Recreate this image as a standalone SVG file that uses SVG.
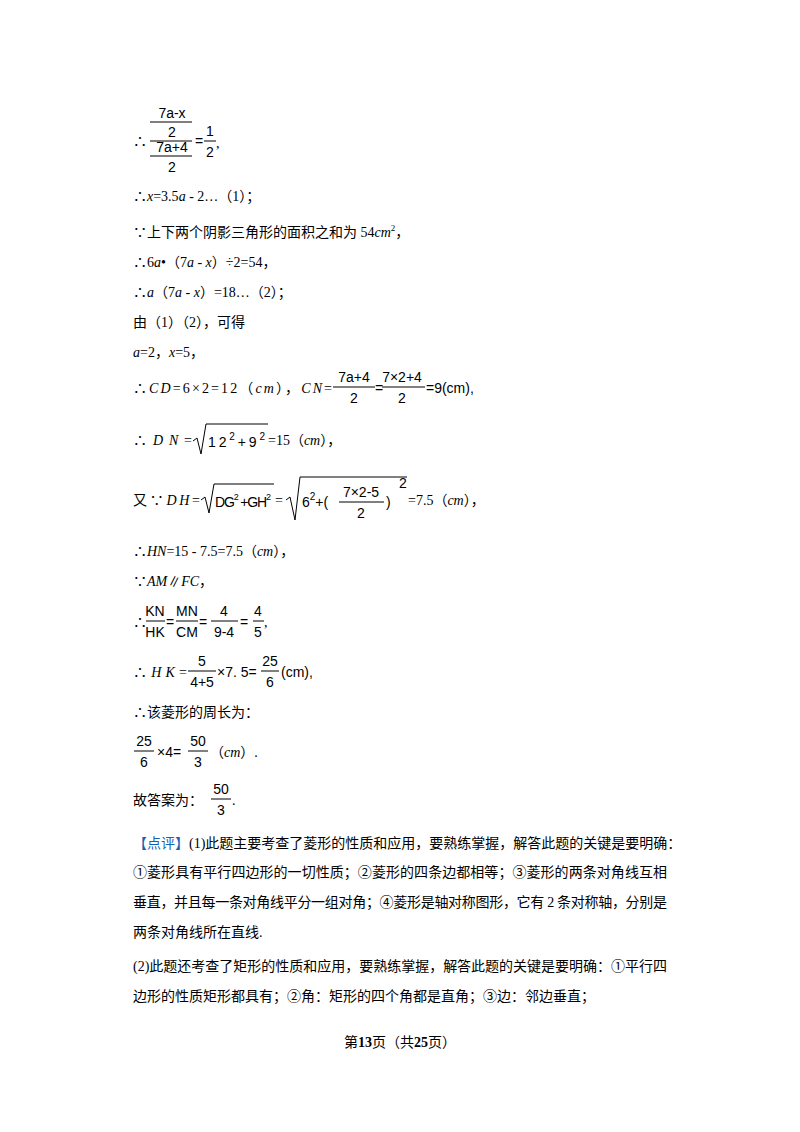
<svg xmlns="http://www.w3.org/2000/svg" width="800" height="1132" viewBox="0 0 800 1132">
<style>
text{font-family:"Liberation Serif","Noto Sans CJK SC",serif;font-size:14px;fill:#000}
.s{font-family:"Liberation Sans","Noto Sans CJK SC",sans-serif;font-size:14px}
.i{font-style:italic}
.m{text-anchor:middle}
line{stroke:#000;stroke-width:1}
.b{fill:#1a5fb4}
</style>
<rect width="800" height="1132" fill="#fff"/>
<g id="frac1">
<text x="133" y="146">∴</text>
<text class="s m" x="172" y="118">7a-x</text>
<line x1="150" y1="122" x2="192" y2="122"/>
<text class="s m" x="172" y="137">2</text>
<line x1="150" y1="141" x2="192" y2="141"/>
<text class="s m" x="172" y="152">7a+4</text>
<line x1="150" y1="156" x2="192" y2="156"/>
<text class="s m" x="172" y="172">2</text>
<text class="s" x="195" y="146">=</text>
<text class="s m" x="210" y="136">1</text>
<line x1="204" y1="141" x2="216" y2="141"/>
<text class="s m" x="210" y="157">2</text>
<text x="216" y="148">,</text>
</g>
<text x="133" y="201">∴<tspan class="i">x</tspan>=3.5<tspan class="i">a</tspan> - 2…（1）；</text>
<text x="133" y="237">∵上下两个阴影三角形的面积之和为 54<tspan class="i">cm</tspan><tspan font-size="9" dy="-6">2</tspan><tspan dy="6">，</tspan></text>
<text x="133" y="267">∴6<tspan class="i">a</tspan>•（7<tspan class="i">a</tspan> - <tspan class="i">x</tspan>）÷2=54，</text>
<text x="133" y="297">∴<tspan class="i">a</tspan>（7<tspan class="i">a</tspan> - <tspan class="i">x</tspan>）=18…（2）；</text>
<text x="133" y="327">由（1）（2），可得</text>
<text x="133" y="357"><tspan class="i">a</tspan>=2，<tspan class="i">x</tspan>=5，</text>
<g id="cd">
<text x="133" y="393" textLength="199">∴<tspan class="i">CD</tspan>=6×2=12（<tspan class="i">cm</tspan>），<tspan class="i">CN</tspan>=</text>
<text class="s m" x="354" y="382">7a+4</text>
<line x1="333" y1="387" x2="375" y2="387"/>
<text class="s m" x="354" y="403">2</text>
<text class="s" x="375" y="393">=</text>
<text class="s m" x="402" y="382">7×2+4</text>
<line x1="382" y1="387" x2="425" y2="387"/>
<text class="s m" x="402" y="403">2</text>
<text class="s" x="426" y="393">=9(cm),</text>
</g>
<g id="dn">
<text x="133" y="445" textLength="59">∴<tspan class="i">DN</tspan>=</text>
<path d="M193 441 L197 438 L201 454 L206 424 L268 424" fill="none" stroke="#000"/>
<text class="s" x="208" y="447" textLength="57">12<tspan font-size="10" dy="-7">2</tspan><tspan dy="7">+9</tspan><tspan font-size="10" dy="-7">2</tspan></text>
<text x="268" y="445">=15（<tspan class="i">cm</tspan>），</text>
</g>
<g id="dh">
<text x="133" y="505" textLength="67">又∵<tspan class="i">DH</tspan>=</text>
<path d="M201 500 L205 497 L209 513 L214 484 L274 484" fill="none" stroke="#000"/>
<text class="s" x="215" y="507" font-size="12" textLength="56">DG<tspan font-size="9" dy="-7">2</tspan><tspan dy="7"> +GH</tspan><tspan font-size="9" dy="-7">2</tspan></text>
<text x="275" y="505">=</text>
<path d="M286 500 L290 497 L295 520 L300 477 L407 477" fill="none" stroke="#000"/>
<text class="s" x="302" y="507">6<tspan font-size="10" dy="-7">2</tspan><tspan dy="7">+(</tspan></text>
<text class="s m" x="361" y="497">7×2-5</text>
<line x1="339" y1="502" x2="384" y2="502"/>
<text class="s m" x="361" y="518">2</text>
<text class="s" x="386" y="507">)</text>
<text class="s" x="399" y="488" font-size="11">2</text>
<text x="408" y="505">=7.5（<tspan class="i">cm</tspan>），</text>
</g>
<text x="133" y="556">∴<tspan class="i">HN</tspan>=15 - 7.5=7.5（<tspan class="i">cm</tspan>），</text>
<text x="133" y="586">∵<tspan class="i">AM</tspan>∥<tspan class="i">FC</tspan>，</text>
<g id="kn">
<text x="133" y="627">∴</text>
<text class="s m" x="155" y="616" font-size="13">KN</text>
<line x1="146" y1="621" x2="165" y2="621"/>
<text class="s m" x="155" y="637" font-size="13">HK</text>
<text class="s" x="166" y="627">=</text>
<text class="s m" x="187" y="616" font-size="13">MN</text>
<line x1="176" y1="621" x2="198" y2="621"/>
<text class="s m" x="187" y="637" font-size="13">CM</text>
<text class="s" x="199" y="627">=</text>
<text class="s m" x="224" y="616">4</text>
<line x1="211" y1="621" x2="238" y2="621"/>
<text class="s m" x="224" y="637">9-4</text>
<text class="s" x="240" y="627">=</text>
<text class="s m" x="258" y="616">4</text>
<line x1="253" y1="621" x2="264" y2="621"/>
<text class="s m" x="258" y="637">5</text>
<text x="264" y="627">,</text>
</g>
<g id="hk">
<text x="133" y="677" textLength="54">∴<tspan class="i">HK</tspan>=</text>
<text class="s m" x="202" y="666">5</text>
<line x1="188" y1="671" x2="216" y2="671"/>
<text class="s m" x="202" y="687">4+5</text>
<text class="s" x="217" y="677">×7. 5=</text>
<text class="s m" x="270" y="666">25</text>
<line x1="261" y1="671" x2="279" y2="671"/>
<text class="s m" x="270" y="687">6</text>
<text class="s" x="281" y="677">(cm),</text>
</g>
<text x="133" y="717">∴该菱形的周长为：</text>
<g id="per">
<text class="s m" x="144" y="746">25</text>
<line x1="134" y1="751" x2="154" y2="751"/>
<text class="s m" x="144" y="767">6</text>
<text class="s" x="157" y="757">×4=</text>
<text class="s m" x="198" y="746">50</text>
<line x1="188" y1="751" x2="208" y2="751"/>
<text class="s m" x="198" y="767">3</text>
<text x="210" y="757">（<tspan class="i">cm</tspan>）.</text>
</g>
<g id="ans">
<text x="133" y="805">故答案为：</text>
<text class="s m" x="221" y="794">50</text>
<line x1="211" y1="799" x2="231" y2="799"/>
<text class="s m" x="221" y="815">3</text>
<text x="232" y="805">.</text>
</g>
<text x="133" y="848"><tspan class="b">【点评】</tspan>(1)此题主要考查了菱形的性质和应用，要熟练掌握，解答此题的关键是要明确：</text>
<text x="133" y="877" textLength="534">①菱形具有平行四边形的一切性质；②菱形的四条边都相等；③菱形的两条对角线互相</text>
<text x="133" y="907" textLength="534">垂直，并且每一条对角线平分一组对角；④菱形是轴对称图形，它有 2 条对称轴，分别是</text>
<text x="133" y="937">两条对角线所在直线.</text>
<text x="133" y="971" textLength="534">(2)此题还考查了矩形的性质和应用，要熟练掌握，解答此题的关键是要明确：①平行四</text>
<text x="133" y="1001">边形的性质矩形都具有；②角：矩形的四个角都是直角；③边：邻边垂直；</text>
<text x="400" y="1047" class="m" font-size="12">第<tspan font-weight="bold" font-size="14">13</tspan>页（共<tspan font-weight="bold" font-size="14">25</tspan>页）</text>
</svg>
